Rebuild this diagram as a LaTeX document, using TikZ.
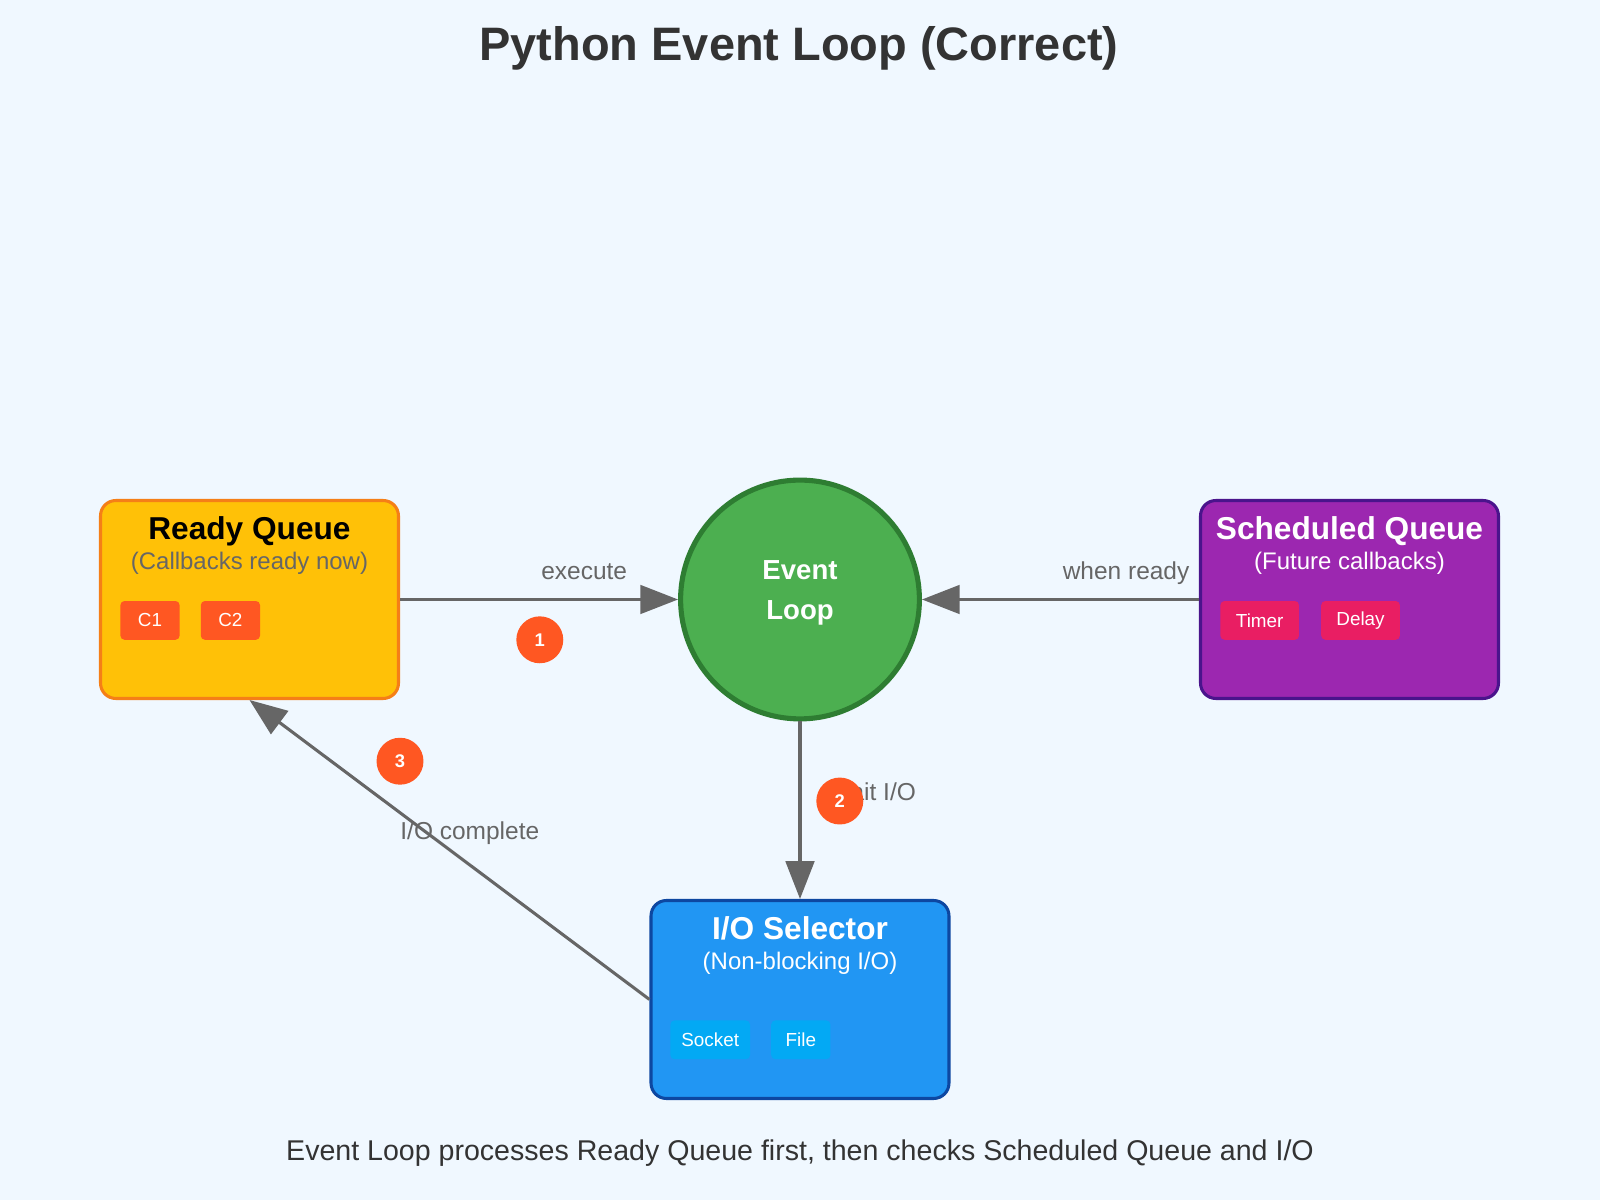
\documentclass[tikz,border=0pt]{standalone}
\usepackage{fontspec}
\setmainfont{Liberation Sans}
\usetikzlibrary{arrows.meta, positioning}

\definecolor{bgBlue}{HTML}{F0F8FF}
\definecolor{darkText}{HTML}{333333}
\definecolor{labelGray}{HTML}{666666}
\definecolor{arrowGray}{HTML}{666666}
\definecolor{readyFill}{HTML}{FFC107}
\definecolor{readyLine}{HTML}{F57F17}
\definecolor{chipOrange}{HTML}{FF5722}
\definecolor{loopFill}{HTML}{4CAF50}
\definecolor{loopLine}{HTML}{2E7D32}
\definecolor{schedFill}{HTML}{9C27B0}
\definecolor{schedLine}{HTML}{4A148C}
\definecolor{chipPink}{HTML}{E91E63}
\definecolor{ioFill}{HTML}{2196F3}
\definecolor{ioLine}{HTML}{0D47A1}
\definecolor{chipBlue}{HTML}{03A9F4}

\begin{document}
\begin{tikzpicture}[x=0.5pt, y=-0.5pt]
		\tikzstyle{QueueBox} = [rectangle, rounded corners=7.5pt, minimum width=146pt, minimum height=97pt, line width=1.5pt, inner sep=0pt]
		\tikzstyle{QueueTitle} = [anchor=base, inner sep=0pt, font=\fontsize{15.5}{18}\selectfont\bfseries]
		\tikzstyle{QueueNote} = [anchor=base, inner sep=0pt, font=\fontsize{11.75}{14}\selectfont]
		\tikzstyle{TaskChip} = [rectangle, rounded corners=2pt, minimum height=19pt, inner sep=0pt, text=white, font=\fontsize{9.25}{11}\selectfont]
		\tikzstyle{EdgeLabel} = [inner sep=0pt, text=labelGray, font=\fontsize{12}{14}\selectfont]
		\tikzstyle{StepBadge} = [circle, fill=chipOrange, minimum size=23pt, inner sep=0pt, text=white, font=\fontsize{9}{11}\selectfont\bfseries]
		\tikzstyle{arrow} = [line width=1.5pt, draw=arrowGray, -{Triangle[length=18.5pt, width=14pt]}]
		
		\fill[bgBlue] (0,0) rectangle (1568,1176);
		\useasboundingbox (0,0) rectangle (1568,1176);
		
		\node (title) [anchor=base, text=darkText, font=\fontsize{23}{27}\selectfont\bfseries] at (783,59) {Python Event Loop (Correct)};
		
		% ready queue
		\node (readyQ) [QueueBox, fill=readyFill, draw=readyLine] at (244.5,587.5) {};
		\node (readyTitle) [QueueTitle, text=black] at (244.5,529) {Ready Queue};
		\node (readyNote) [QueueNote, text=labelGray] at (244.5,558) {(Callbacks ready now)};
		\node (chipC1) [TaskChip, fill=chipOrange, minimum width=29pt] at (147,608) {C1};
		\node (chipC2) [TaskChip, fill=chipOrange, minimum width=29pt, right = 10pt of chipC1] {C2};
		
		% event loop
		\node (eventLoop) [circle, minimum size=117pt, line width=2.5pt, fill=loopFill, draw=loopLine] at (784,587.5) {};
		\node (loopTop) [anchor=base, inner sep=0pt, text=white, font=\fontsize{13.5}{16}\selectfont\bfseries] at (784,568) {Event};
		\node (loopBottom) [anchor=base, inner sep=0pt, text=white, font=\fontsize{13.5}{16}\selectfont\bfseries] at (784,607) {Loop};
		
		% scheduled queue
		\node (schedQ) [QueueBox, fill=schedFill, draw=schedLine] at (1322.5,587.5) {};
		\node (schedTitle) [QueueTitle, text=white] at (1322.5,529) {Scheduled Queue};
		\node (schedNote) [QueueNote, text=white] at (1322.5,558) {(Future callbacks)};
		\node (chipTimer) [TaskChip, fill=chipPink, minimum width=38.5pt] at (1234.5,608) {Timer};
		\node (chipDelay) [TaskChip, fill=chipPink, minimum width=38.5pt, right = 10.5pt of chipTimer] {Delay};
		
		% io selector
		\node (ioSel) [QueueBox, fill=ioFill, draw=ioLine] at (784,979.5) {};
		\node (ioTitle) [QueueTitle, text=white] at (784,921) {I/O Selector};
		\node (ioNote) [QueueNote, text=white] at (784,950) {(Non-blocking I/O)};
		\node (chipSocket) [TaskChip, fill=chipBlue, minimum width=39pt] at (696,1019) {Socket};
		\node (chipFile) [TaskChip, fill=chipBlue, minimum width=29pt, right = 10pt of chipSocket] {File};
		
		\draw[arrow] (readyQ.east) -- (eventLoop);
		\draw[arrow] (schedQ.west) -- (eventLoop);
		\draw[arrow] (eventLoop) -- (ioSel);
		\draw[arrow] (ioSel.west) -- (readyQ.south);
		
		\node (execLabel) [EdgeLabel, anchor=base] at (572.5,568) {execute};
		\node (readyLabel) [EdgeLabel, anchor=base east] at (1166,568) {when ready};
		\node (waitLabel) [EdgeLabel, anchor=base east] at (898,784) {wait I/O};
		\node (doneLabel) [EdgeLabel, anchor=base west] at (392,823) {I/O complete};
		
		\node (badgeOne) [StepBadge] at (529,627) {1};
		\node (badgeTwo) [StepBadge] at (823,785) {2};
		\node (badgeThree) [StepBadge] at (392,746) {3};
		
		\node (footNote) [anchor=base, text=darkText, font=\fontsize{14}{17}\selectfont] at (784,1137) {Event Loop processes Ready Queue first, then checks Scheduled Queue and I/O};
		\end{tikzpicture}
\end{document}
